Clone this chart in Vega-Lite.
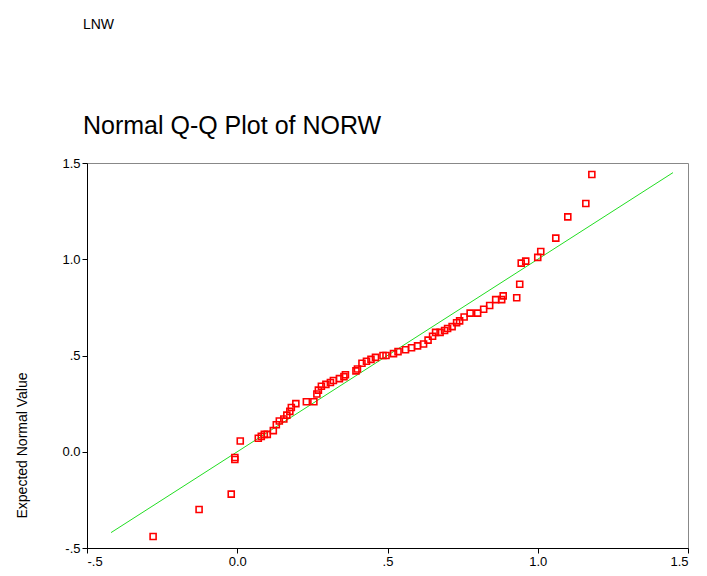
{
  "$schema": "https://vega.github.io/schema/vega-lite/v6.json",
  "width": 601,
  "height": 385,
  "autosize": {"type": "none"},
  "padding": {"left": 87, "top": 163, "right": 19, "bottom": 28},
  "background": "white",
  "config": {
    "font": "Liberation Sans",
    "view": {"stroke": "#888888", "strokeWidth": 1},
    "axis": {"grid": false, "domainColor": "#000000", "tickColor": "#000000", "labelColor": "#000000", "labelFontSize": 13, "tickSize": 5, "titleFontWeight": "normal", "titleFontSize": 14}
  },
  "title": {
    "text": "LNW",
    "subtitle": "Normal Q-Q Plot of NORW",
    "anchor": "start",
    "frame": "bounds",
    "dx": 67,
    "fontSize": 14,
    "fontWeight": "normal",
    "subtitleFontSize": 25,
    "subtitleColor": "#000000",
    "subtitlePadding": 82,
    "offset": 18
  },
  "layer": [
    {
      "data": {"values": [{"x": -0.42, "y": -0.42}, {"x": 1.45, "y": 1.45}]},
      "mark": {"type": "line", "color": "#22dd22", "strokeWidth": 1},
      "encoding": {
        "x": {"field": "x", "type": "quantitative"},
        "y": {"field": "y", "type": "quantitative"}
      }
    },
    {
      "data": {"values": [
        {"x": -0.28, "y": -0.44}, {"x": -0.127, "y": -0.30}, {"x": -0.02, "y": -0.22}, {"x": -0.008, "y": -0.04},
        {"x": -0.008, "y": -0.03}, {"x": 0.01, "y": 0.056}, {"x": 0.07, "y": 0.07}, {"x": 0.08, "y": 0.08},
        {"x": 0.09, "y": 0.09}, {"x": 0.10, "y": 0.09}, {"x": 0.12, "y": 0.11}, {"x": 0.13, "y": 0.14},
        {"x": 0.14, "y": 0.16}, {"x": 0.155, "y": 0.17}, {"x": 0.165, "y": 0.19}, {"x": 0.175, "y": 0.21},
        {"x": 0.18, "y": 0.23}, {"x": 0.195, "y": 0.25}, {"x": 0.23, "y": 0.26}, {"x": 0.255, "y": 0.26},
        {"x": 0.265, "y": 0.30}, {"x": 0.27, "y": 0.32}, {"x": 0.28, "y": 0.34}, {"x": 0.295, "y": 0.35},
        {"x": 0.31, "y": 0.36}, {"x": 0.32, "y": 0.37}, {"x": 0.34, "y": 0.38}, {"x": 0.355, "y": 0.39},
        {"x": 0.36, "y": 0.40}, {"x": 0.395, "y": 0.42}, {"x": 0.40, "y": 0.43}, {"x": 0.415, "y": 0.46},
        {"x": 0.43, "y": 0.47}, {"x": 0.445, "y": 0.48}, {"x": 0.46, "y": 0.49}, {"x": 0.485, "y": 0.50},
        {"x": 0.495, "y": 0.50}, {"x": 0.52, "y": 0.51}, {"x": 0.535, "y": 0.52}, {"x": 0.56, "y": 0.53},
        {"x": 0.58, "y": 0.54}, {"x": 0.60, "y": 0.55}, {"x": 0.62, "y": 0.56}, {"x": 0.635, "y": 0.58},
        {"x": 0.65, "y": 0.60}, {"x": 0.66, "y": 0.62}, {"x": 0.675, "y": 0.62}, {"x": 0.69, "y": 0.63},
        {"x": 0.70, "y": 0.64}, {"x": 0.715, "y": 0.65}, {"x": 0.73, "y": 0.67}, {"x": 0.74, "y": 0.68},
        {"x": 0.755, "y": 0.70}, {"x": 0.775, "y": 0.72}, {"x": 0.80, "y": 0.72}, {"x": 0.82, "y": 0.74},
        {"x": 0.84, "y": 0.76}, {"x": 0.86, "y": 0.79}, {"x": 0.88, "y": 0.79}, {"x": 0.885, "y": 0.81},
        {"x": 0.93, "y": 0.80}, {"x": 0.94, "y": 0.87}, {"x": 0.945, "y": 0.98}, {"x": 0.96, "y": 0.99},
        {"x": 1.00, "y": 1.01}, {"x": 1.01, "y": 1.04}, {"x": 1.06, "y": 1.11}, {"x": 1.10, "y": 1.22},
        {"x": 1.16, "y": 1.29}, {"x": 1.18, "y": 1.44}
      ]},
      "mark": {"type": "point", "shape": "square", "filled": false, "color": "#ff0000", "size": 36, "strokeWidth": 1.6, "opacity": 1},
      "encoding": {
        "x": {"field": "x", "type": "quantitative", "title": null,
          "scale": {"domain": [-0.5, 1.5], "nice": false},
          "axis": {"values": [-0.5, 0, 0.5, 1, 1.5], "labelExpr": "datum.value == 0.5 ? '.5' : datum.value == -0.5 ? '-.5' : format(datum.value, '.1f')"}},
        "y": {"field": "y", "type": "quantitative", "title": "Expected Normal Value",
          "scale": {"domain": [-0.5, 1.5], "nice": false},
          "axis": {"values": [-0.5, 0, 0.5, 1, 1.5], "titlePadding": 32, "titleY": 282, "labelExpr": "datum.value == 0.5 ? '.5' : datum.value == -0.5 ? '-.5' : format(datum.value, '.1f')"}}
      }
    }
  ]
}
